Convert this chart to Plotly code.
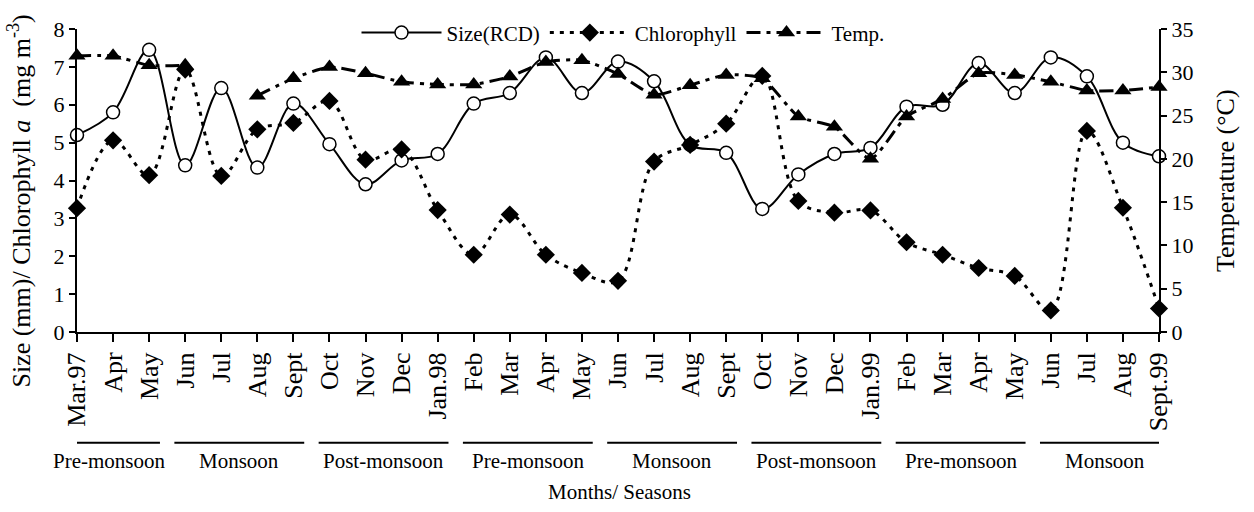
import plotly.graph_objects as go

months = ["Mar.97", "Apr", "May", "Jun", "Jul", "Aug", "Sept", "Oct", "Nov", "Dec",
          "Jan.98", "Feb", "Mar", "Apr", "May", "Jun", "Jul", "Aug", "Sept", "Oct",
          "Nov", "Dec", "Jan.99", "Feb", "Mar", "Apr", "May", "Jun", "Jul", "Aug", "Sept.99"]

size_rcd = [5.2, 5.8, 7.45, 4.4, 6.44, 4.34, 6.03, 4.96, 3.9, 4.53,
            4.7, 6.03, 6.31, 7.25, 6.31, 7.14, 6.62, 4.94, 4.73, 3.25,
            4.16, 4.7, 4.86, 5.95, 6.0, 7.1, 6.31, 7.25, 6.75, 5.0, 4.64]

chlorophyll = [3.27, 5.06, 4.14, 6.93, 4.12, 5.35, 5.52, 6.1, 4.55, 4.82,
               3.22, 2.04, 3.1, 2.04, 1.56, 1.35, 4.5, 4.94, 5.5, 6.76,
               3.46, 3.15, 3.21, 2.37, 2.04, 1.69, 1.48, 0.57, 5.31, 3.28, 0.62]

temperature = [31.9, 31.9, 30.8, 30.8, None, 27.3, 29.3, 30.6, 29.9, 28.9,
               28.6, 28.6, 29.5, 31.2, 31.4, 29.8, 27.4, 28.5, 29.7, 29.3,
               24.9, 23.7, 20.0, 24.9, 26.9, 29.9, 29.7, 28.9, 27.9, 27.9, 28.3]

seasons = ["Pre-monsoon", "Monsoon", "Post-monsoon", "Pre-monsoon",
           "Monsoon", "Post-monsoon", "Pre-monsoon", "Monsoon"]
season_first = [0, 3, 7, 11, 15, 19, 23, 27]
season_last = [2, 6, 10, 14, 18, 22, 26, 30]

FONT = "Liberation Serif, Times New Roman, serif"

# plot-area geometry (px)
W, H = 1254, 512
ML, MR, MT, MB = 77, 95, 23, 180
PW = W - ML - MR
PH = H - MT - MB


def py(pix):
    """pixel y (from top) -> paper y"""
    return (H - MB - pix) / PH


def px(pix):
    """pixel x (from left) -> paper x"""
    return (pix - ML) / PW


x = list(range(len(months)))

fig = go.Figure()
fig.add_trace(go.Scatter(
    x=x, y=size_rcd, name="Size(RCD)", mode="lines+markers",
    line=dict(color="black", width=2, shape="spline", smoothing=1),
    marker=dict(symbol="circle", size=13, color="white", line=dict(color="black", width=1.5)),
    cliponaxis=False))
fig.add_trace(go.Scatter(
    x=x, y=chlorophyll, name="Chlorophyll", mode="lines+markers",
    line=dict(color="black", width=3, dash="4px,6px", shape="spline", smoothing=1),
    marker=dict(symbol="diamond", size=14, color="black"),
    cliponaxis=False))
fig.add_trace(go.Scatter(
    x=x, y=temperature, name="Temp.", mode="lines+markers", yaxis="y2",
    line=dict(color="black", width=3, dash="14px,6px,4px,6px", shape="spline", smoothing=0.6),
    marker=dict(symbol="triangle-up", size=15, color="black"),
    connectgaps=False, cliponaxis=False))

shapes = []
annotations = []
for name, a, b in zip(seasons, season_first, season_last):
    x0 = a - 0.3 if a > 0 else a - 0.5
    x1 = b + 0.3
    shapes.append(dict(type="line", xref="x", yref="paper", x0=x0, x1=x1,
                       y0=py(445), y1=py(445), line=dict(color="black", width=2)))
    annotations.append(dict(text=name, xref="x", yref="paper", x=(x0 + x1) / 2, y=py(464),
                            showarrow=False, font=dict(family=FONT, size=21, color="black"),
                            xanchor="center", yanchor="middle"))

annotations.append(dict(text="Months/ Seasons", xref="paper", yref="paper", x=px(619), y=py(495),
                        showarrow=False, font=dict(family=FONT, size=21, color="black"),
                        xanchor="center", yanchor="middle"))
annotations.append(dict(text="Size (mm)/ Chlorophyll <i>a</i>  (mg m<sup>-3</sup>)",
                        xref="paper", yref="paper", x=px(20), y=py(199),
                        textangle=-90, showarrow=False,
                        font=dict(family=FONT, size=26, color="black"),
                        xanchor="center", yanchor="middle"))
annotations.append(dict(text="Temperature (°C)",
                        xref="paper", yref="paper", x=px(1226), y=py(178),
                        textangle=-90, showarrow=False,
                        font=dict(family=FONT, size=26, color="black"),
                        xanchor="center", yanchor="middle"))

fig.update_layout(
    width=W, height=H,
    margin=dict(l=ML, r=MR, t=MT, b=MB),
    paper_bgcolor="white", plot_bgcolor="white",
    font=dict(family=FONT, size=21, color="black"),
    showlegend=True,
    legend=dict(orientation="h", x=px(623), xanchor="center", y=py(27), yanchor="middle",
                bgcolor="rgba(0,0,0,0)", font=dict(family=FONT, size=21),
                itemwidth=80, tracegroupgap=0),
    xaxis=dict(range=[0, 30], tickmode="array", tickvals=x, ticktext=months,
               tickangle=-90, ticks="outside", ticklen=8, tickwidth=2, tickcolor="black",
               showline=True, linecolor="black", linewidth=2, showgrid=False, zeroline=False,
               tickfont=dict(family=FONT, size=26)),
    yaxis=dict(range=[0, 8], dtick=1, ticks="outside", ticklen=6, tickwidth=2, tickcolor="black",
               showline=True, linecolor="black", linewidth=2, showgrid=False, zeroline=False,
               tickfont=dict(family=FONT, size=22)),
    yaxis2=dict(range=[0, 35], dtick=5, overlaying="y", side="right", ticks="outside",
                ticklen=6, tickwidth=2, tickcolor="black",
                showline=True, linecolor="black", linewidth=2, showgrid=False, zeroline=False,
                tickfont=dict(family=FONT, size=22)),
    shapes=shapes, annotations=annotations,
)

fig.write_html("out.html", config={"displayModeBar": False},
               post_script="document.body.style.margin='0px';")
